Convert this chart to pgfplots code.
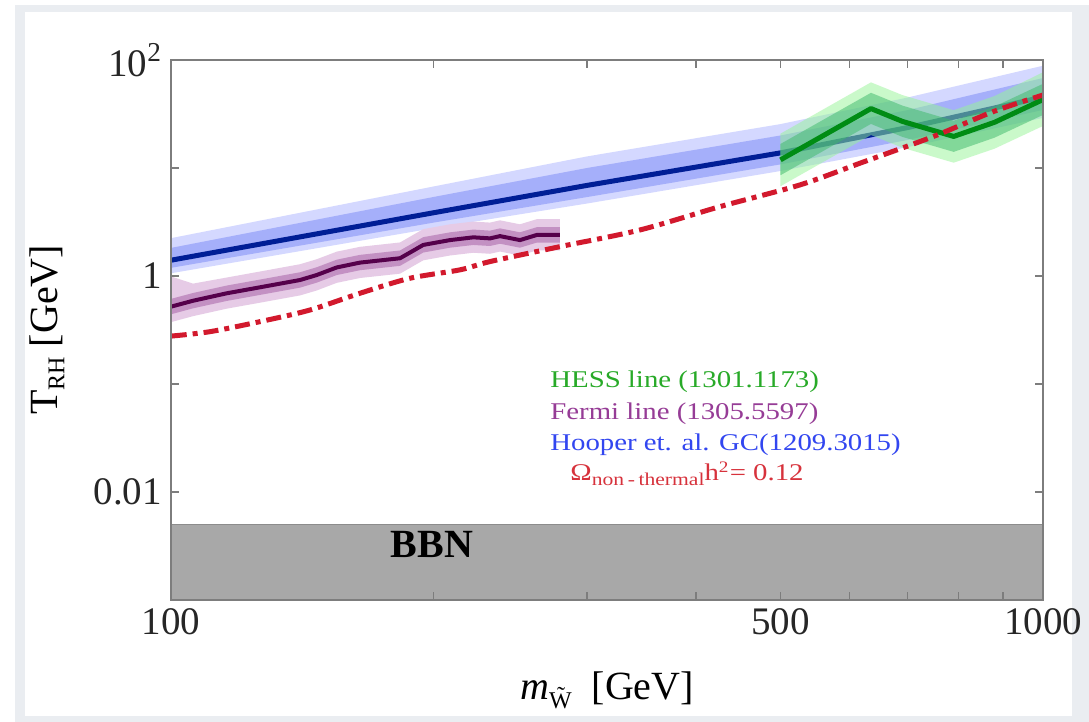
\documentclass[border=0pt]{standalone}
\usepackage{pgfplots}
\pgfplotsset{compat=1.18}
\usepackage{pgfplotstable}
\usepgfplotslibrary{fillbetween}
\usepackage{fontspec}
\setmainfont{Liberation Serif}
\usepackage{graphicx}

\definecolor{axisgray}{RGB}{125,125,125}
\definecolor{bluemid}{RGB}{0,30,150}
\definecolor{bluedark}{RGB}{165,175,250}
\definecolor{bluelight}{RGB}{212,216,255}
\definecolor{purpmid}{RGB}{85,0,75}
\definecolor{purpdark}{RGB}{195,145,195}
\definecolor{purplight}{RGB}{230,203,230}
\definecolor{greenmid}{RGB}{0,140,20}
\definecolor{greendark}{RGB}{60,185,105}
\definecolor{greenlight}{RGB}{150,245,150}
\definecolor{redline}{RGB}{210,25,45}
\definecolor{bbngray}{RGB}{168,168,168}
\definecolor{framegray}{RGB}{234,237,241}
\definecolor{hesscol}{RGB}{40,170,40}
\definecolor{fermicol}{RGB}{150,60,150}
\definecolor{hoopcol}{RGB}{50,70,240}
\definecolor{omcol}{RGB}{215,50,60}

% Hooper et al. GC band
\pgfplotstableread{
x    lo2   lo1   mid   hi1   hi2
100  1.06  1.19  1.40  1.82  2.24
200  2.77  3.12  3.85  5.39  6.74
300  4.69  5.38  6.90  10.0  12.8
500  9.38  10.8  13.8  20.0  25.5
700  15.6  18.2  23.7  34.4  45.0
1000 29.1  34.5  45.4  68.1  88.5
}\bluetab

% Fermi line band
\pgfplotstableread{
x     lo2   lo1   mid   hi1   hi2
100   0.374 0.442 0.520 0.614 0.99
106   0.425 0.502 0.590 0.696 0.85
115.8 0.498 0.587 0.691 0.815 0.967
126.5 0.566 0.668 0.786 0.927 1.10
140.6 0.661 0.780 0.918 1.083 1.285
146.9 0.734 0.867 1.02  1.204 1.428
154.9 0.864 1.02  1.20  1.416 1.68
164.7 0.958 1.131 1.33  1.569 1.862
183.1 1.051 1.241 1.46  1.723 2.044
194.7 1.397 1.649 1.94  2.289 2.716
208.9 1.548 1.828 2.15  2.537 3.01
222.2 1.642 1.938 2.28  2.69  3.192
232.2 1.606 1.896 2.23  2.631 3.122
238.4 1.685 1.989 2.34  2.761 3.276
251.3 1.548 1.828 2.15  2.537 3.01
262.8 1.728 2.04  2.40  2.832 3.36
279.3 1.728 2.04  2.40  2.832 3.36
}\fermitab

% HESS line band
\pgfplotstableread{
x    lo2   lo1   mid   hi1   hi2
500  6.78  8.57  11.9  16.7  20.8
635  20.2  25.6  35.5  49.7  62.1
690  15.4  19.4  27.0  37.8  47.3
790  11.2  14.1  19.6  27.4  34.3
880  15.1  19.1  26.5  37.1  46.4
1000 24.5  31.0  43.0  60.2  77.0
}\hesstab

% Omega_non-thermal h^2 = 0.12
\pgfplotstableread{
x      y
100.2  0.278
110.8  0.305
126.5  0.378
144.3  0.484
164.7  0.692
188.0  0.953
214.5  1.14
232.2  1.36
279.3  1.87
345.1  2.67
426.2  4.39
526.3  6.97
616.7  11.07
747.9  19.5
876.4  33.2
1000   47.4
}\redtab

\begin{document}
\begin{tikzpicture}
% background frame (pixel scope: 1px = 0.5pt, origin at axis south west)
\begin{scope}[x=0.5pt,y=-0.5pt,shift={(-85.5pt,300pt)}]
  \fill[white] (0,0) rectangle (1089,722);
  \fill[framegray] (15,5) rectangle (1089,722);
  \fill[white] (25,12) rectangle (1072,716);
\end{scope}

\begin{axis}[
  scale only axis, width=436pt, height=270pt,
  xmode=log, ymode=log,
  xmin=100, xmax=1000, ymin=0.001, ymax=100,
  axis on top,
  /tikz/fill between/on layer=main,
  axis line style={draw=axisgray, line width=0.7pt},
  xtick={100,200,300,400,500,600,700,800,900,1000},
  xticklabels={100,,,,500,,,,,1000},
  ytick={0.001,0.01,0.1,1,10,100},
  yticklabels={,0.01,,1,,10\textsuperscript{2}},
  xminorticks=false, yminorticks=false,
  tick align=inside, tick pos=both,
  major tick length=4pt,
  tick style={draw=axisgray, line width=0.6pt},
  /pgf/number format/assume math mode=true,
  tick label style={font=\fontsize{19.5}{20}\selectfont, text=black!85},
  xticklabel style={yshift=-1pt},
  yticklabel style={xshift=-1pt},
  every axis y label/.style={at={(axis description cs:-0.142,0.5)}, rotate=90, anchor=center},
  every axis x label/.style={at={(axis description cs:0.5,-0.167)}, anchor=center},
  ylabel={\fontsize{20}{22}\selectfont T\raisebox{-0.35ex}{\fontsize{12}{12}\selectfont RH} [GeV]},
  xlabel={\fontsize{20}{22}\selectfont \textit{m}\raisebox{-0.45ex}{\fontsize{12}{12}\selectfont \~{W}}\ \ [GeV]},
]
% BBN region
\addplot[fill=bbngray, draw=black!45, line width=0.5pt] coordinates {(100,0.001) (100,0.005) (1000,0.005) (1000,0.001)} -- cycle;

% Hooper band
\addplot[name path=bhi2, draw=none, forget plot] table[x=x,y=hi2]{\bluetab};
\addplot[name path=blo2, draw=none, forget plot] table[x=x,y=lo2]{\bluetab};
\addplot[name path=bhi1, draw=none, forget plot] table[x=x,y=hi1]{\bluetab};
\addplot[name path=blo1, draw=none, forget plot] table[x=x,y=lo1]{\bluetab};
\addplot[fill=bluelight, draw=none] fill between[of=bhi2 and blo2];
\addplot[fill=bluedark, draw=none] fill between[of=bhi1 and blo1];
\addplot[bluemid, line width=2.5pt] table[x=x,y=mid]{\bluetab};

% Fermi band
\addplot[name path=fhi2, draw=none, forget plot] table[x=x,y=hi2]{\fermitab};
\addplot[name path=flo2, draw=none, forget plot] table[x=x,y=lo2]{\fermitab};
\addplot[name path=fhi1, draw=none, forget plot] table[x=x,y=hi1]{\fermitab};
\addplot[name path=flo1, draw=none, forget plot] table[x=x,y=lo1]{\fermitab};
\addplot[fill=purplight, draw=none] fill between[of=fhi2 and flo2];
\addplot[fill=purpdark, draw=none] fill between[of=fhi1 and flo1];
\addplot[purpmid, line width=2pt, line join=round] table[x=x,y=mid]{\fermitab};

% HESS band
\addplot[name path=hhi2, draw=none, forget plot] table[x=x,y=hi2]{\hesstab};
\addplot[name path=hlo2, draw=none, forget plot] table[x=x,y=lo2]{\hesstab};
\addplot[name path=hhi1, draw=none, forget plot] table[x=x,y=hi1]{\hesstab};
\addplot[name path=hlo1, draw=none, forget plot] table[x=x,y=lo1]{\hesstab};
\addplot[fill=greenlight, fill opacity=0.5, draw=none] fill between[of=hhi2 and hlo2];
\addplot[fill=greendark, fill opacity=0.5, draw=none] fill between[of=hhi1 and hlo1];
\addplot[greenmid, line width=2.5pt, line join=round] table[x=x,y=mid]{\hesstab};

% Omega h^2 = 0.12
\addplot[redline, line width=2.5pt, line cap=butt, dash pattern=on 7.5pt off 3pt on 2.5pt off 3pt, smooth] table[x=x,y=y]{\redtab};
\end{axis}

\begin{scope}[x=0.5pt,y=-0.5pt,shift={(-85.5pt,300pt)}]
  \node[anchor=base, font=\fontsize{20}{22}\selectfont\bfseries, inner sep=0pt] at (432,558) {BBN};
  \node[anchor=base west, inner sep=0pt, text=hesscol] at (550,388) {\scalebox{1.2}[1]{\fontsize{12}{14}\selectfont HESS line (1301.1173)}};
  \node[anchor=base west, inner sep=0pt, text=fermicol] at (550,420) {\scalebox{1.2}[1]{\fontsize{12}{14}\selectfont Fermi line (1305.5597)}};
  \node[anchor=base west, inner sep=0pt, text=hoopcol] at (550,451) {\scalebox{1.2}[1]{\fontsize{12}{14}\selectfont Hooper et. al. GC(1209.3015)}};
  \node[anchor=base west, inner sep=0pt, text=omcol] at (570,481) {\scalebox{1.2}[1]{\fontsize{12}{14}\selectfont Ω\raisebox{-0.4ex}{\fontsize{9}{9}\selectfont non\,-\,thermal}h\textsuperscript{2}= 0.12}};
  \pgfresetboundingbox
  \path[use as bounding box] (0,0) rectangle (1089,722);
\end{scope}
\end{tikzpicture}
\end{document}
